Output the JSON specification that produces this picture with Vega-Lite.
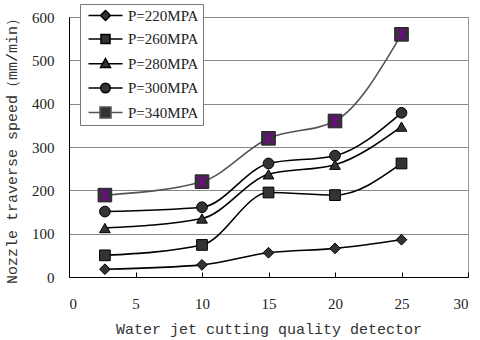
{
  "$schema": "https://vega.github.io/schema/vega-lite/v6.json",
  "width": 399,
  "height": 260,
  "autosize": {"type": "none"},
  "padding": {"left": 69, "top": 17, "right": 12, "bottom": 63},
  "background": "white",
  "config": {
    "view": {"stroke": "#999", "strokeWidth": 1},
    "axis": {
      "labelFont": "Liberation Serif",
      "labelFontSize": 15,
      "labelColor": "#222",
      "titleFont": "Liberation Mono",
      "titleFontSize": 15,
      "titleFontWeight": "normal",
      "titleColor": "#333",
      "domainColor": "#000",
      "tickColor": "#000"
    },
    "legend": {
      "title": null,
      "orient": "none",
      "legendX": 11,
      "legendY": -13,
      "labelFont": "Liberation Serif",
      "labelFontSize": 15,
      "labelColor": "#222",
      "symbolSize": 100,
      "symbolOffset": 14,
      "labelOffset": 15,
      "rowPadding": 7.5,
      "padding": 4,
      "strokeColor": "#777",
      "fillColor": "white"
    }
  },
  "data": {
    "values": [
      {"series": "P=220MPA", "x": 2.7, "y": 18},
      {"series": "P=220MPA", "x": 10, "y": 28},
      {"series": "P=220MPA", "x": 15, "y": 56},
      {"series": "P=220MPA", "x": 20, "y": 66},
      {"series": "P=220MPA", "x": 25, "y": 86},
      {"series": "P=260MPA", "x": 2.7, "y": 50},
      {"series": "P=260MPA", "x": 10, "y": 74},
      {"series": "P=260MPA", "x": 15, "y": 195},
      {"series": "P=260MPA", "x": 20, "y": 189},
      {"series": "P=260MPA", "x": 25, "y": 262},
      {"series": "P=280MPA", "x": 2.7, "y": 113},
      {"series": "P=280MPA", "x": 10, "y": 135},
      {"series": "P=280MPA", "x": 15, "y": 237},
      {"series": "P=280MPA", "x": 20, "y": 259},
      {"series": "P=280MPA", "x": 25, "y": 347},
      {"series": "P=300MPA", "x": 2.7, "y": 151},
      {"series": "P=300MPA", "x": 10, "y": 161},
      {"series": "P=300MPA", "x": 15, "y": 262},
      {"series": "P=300MPA", "x": 20, "y": 280},
      {"series": "P=300MPA", "x": 25, "y": 379},
      {"series": "P=340MPA", "x": 2.7, "y": 189},
      {"series": "P=340MPA", "x": 10, "y": 220},
      {"series": "P=340MPA", "x": 15, "y": 320},
      {"series": "P=340MPA", "x": 20, "y": 360},
      {"series": "P=340MPA", "x": 25, "y": 560}
    ]
  },
  "encoding": {
    "x": {
      "field": "x",
      "type": "quantitative",
      "scale": {"domain": [0, 30], "nice": false, "zero": false},
      "axis": {
        "values": [0, 5, 10, 15, 20, 25, 30],
        "title": "Water jet cutting quality detector",
        "grid": false,
        "tickSize": -5,
        "labelPadding": 24,
        "titlePadding": 10
      }
    },
    "y": {
      "field": "y",
      "type": "quantitative",
      "scale": {"domain": [0, 600], "nice": false},
      "axis": {
        "values": [0, 100, 200, 300, 400, 500, 600],
        "title": "Nozzle traverse speed（mm/min）",
        "grid": true,
        "gridColor": "#888",
        "gridWidth": 1,
        "ticks": false,
        "labelPadding": 15,
        "titlePadding": 12
      }
    }
  },
  "layer": [
    {
      "mark": {"type": "line", "interpolate": "monotone", "strokeWidth": 1.6},
      "encoding": {
        "color": {
          "field": "series",
          "type": "nominal",
          "scale": {
            "domain": ["P=220MPA", "P=260MPA", "P=280MPA", "P=300MPA", "P=340MPA"],
            "range": ["#000000", "#000000", "#000000", "#000000", "#555555"]
          },
          "legend": {
            "encode": {
              "symbols": {
                "update": {
                  "shape": {"signal": "datum.value === 'P=220MPA' ? 'M-3.4,0H-1M1,0H3.4M0,-1L1,0L0,1L-1,0Z' : datum.value === 'P=260MPA' ? 'M-3.4,0H-0.9M0.9,0H3.4M-0.9,-0.9H0.9V0.9H-0.9Z' : datum.value === 'P=280MPA' ? 'M-3.4,0.05H-0.5M0.5,0.05H3.4M0,-1L1,0.8H-1Z' : datum.value === 'P=300MPA' ? 'M-3.4,0H-0.9M0.9,0H3.4M-0.95,0A0.95,0.95 0 1,0 0.95,0A0.95,0.95 0 1,0 -0.95,0Z' : 'M-3.4,0H-1.1M1.1,0H3.4M-1.1,-1.1H1.1V1.1H-1.1Z'"},
                  "fill": {"value": "#333333"},
                  "stroke": {"signal": "datum.value === 'P=340MPA' ? '#555555' : '#000000'"},
                  "strokeWidth": {"value": 1.5},
                  "opacity": {"value": 1},
                  "fillOpacity": {"value": 1},
                  "strokeOpacity": {"value": 1}
                }
              }
            }
          }
        }
      }
    },
    {
      "mark": {"type": "point", "filled": true, "fill": "#333333", "stroke": "#000000", "strokeWidth": 1, "opacity": 1, "size": 115},
      "encoding": {
        "shape": {
          "condition": [
            {"test": "datum.series === 'P=220MPA'", "value": "diamond"},
            {"test": "datum.series === 'P=280MPA'", "value": "triangle-up"},
            {"test": "datum.series === 'P=300MPA'", "value": "circle"}
          ],
          "value": "square"
        }
      }
    },
    {
      "transform": [{"filter": "datum.series === 'P=340MPA'"}],
      "mark": {"type": "point", "shape": "square", "filled": true, "fill": "#333333", "stroke": "#222222", "strokeWidth": 1, "opacity": 1, "size": 185}
    },
    {
      "transform": [{"filter": "datum.series === 'P=340MPA'"}],
      "mark": {"type": "point", "shape": "M-0.8,-0.8L0.8,0.8M0.8,-0.8L-0.8,0.8M0,-1L0,1", "filled": false, "stroke": "#8000a0", "strokeWidth": 1.3, "opacity": 1, "size": 185}
    }
  ]
}
